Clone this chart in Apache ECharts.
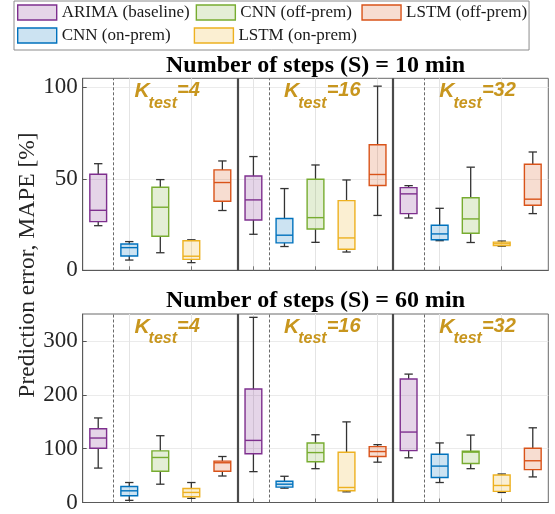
<!DOCTYPE html>
<html>
<head>
<meta charset="utf-8">
<script src="https://cdn.jsdelivr.net/npm/echarts@6/dist/echarts.min.js"></script>
<style>
html,body{margin:0;padding:0;background:#fff;}
#chart{width:555px;height:514px;}
</style>
</head>
<body>
<div id="chart"></div>
<script>
// ---------------- data ----------------
const models = ['ARIMA (baseline)', 'CNN (on-prem)', 'CNN (off-prem)', 'LSTM (on-prem)', 'LSTM (off-prem)'];
const kTest = ['4', '16', '32'];
const panelTitles = ['Number of steps (S) = 10 min', 'Number of steps (S) = 60 min'];
const yTicks10 = [0, 50, 100];
const yTicks60 = [0, 100, 200, 300];
const yMax10 = 105;
const yMax60 = 350;

// [whisker low, Q1, median, Q3, whisker high] for K=4, 16, 32
const arima10   = [[24.4, 26.6, 32.8, 52.5, 58.3], [19.7, 27.5, 38.5, 51.6, 62.2], [28.6, 31.0, 41.8, 45.2, 46.3]];
const cnnOn10   = [[5.6, 7.8, 12.4, 14.4, 15.7], [13.0, 15.0, 19.2, 28.3, 44.7], [16.2, 16.7, 19.9, 24.6, 33.9]];
const cnnOff10  = [[9.6, 18.6, 34.5, 45.4, 49.6], [15.3, 22.6, 28.8, 49.8, 57.6], [15.2, 20.3, 28.1, 39.7, 56.4]];
const lstmOn10  = [[4.2, 6.0, 7.7, 16.2, 16.7], [10.0, 11.5, 17.7, 38.1, 49.4], [13.2, 13.5, 14.5, 15.4, 16.0]];
const lstmOff10 = [[32.7, 37.8, 48.0, 54.9, 59.8], [30.0, 46.4, 52.4, 68.7, 100.7], [31.0, 35.6, 38.9, 58.0, 64.7]];

const arima60   = [[63.9, 100.7, 119.7, 136.8, 157.0], [57.3, 90.4, 115.3, 210.8, 343.8], [83.0, 96.4, 130.8, 229.2, 238.4]];
const cnnOn60   = [[4.0, 12.5, 21.7, 29.8, 37.1], [26.6, 28.5, 34.0, 39.5, 48.7], [37.1, 46.3, 67.6, 89.6, 110.6]];
const cnnOff60  = [[34.0, 57.9, 83.6, 95.9, 124.0], [62.8, 75.7, 92.7, 110.6, 125.8], [62.8, 72.5, 93.5, 95.2, 125.2]];
const lstmOn60  = [[7.7, 10.7, 18.7, 26.1, 37.1], [19.8, 21.7, 27.9, 93.3, 149.7], [18.7, 20.6, 31.6, 51.1, 52.9]];
const lstmOff60 = [[49.2, 57.9, 73.8, 76.8, 85.4], [74.9, 85.4, 94.6, 103.8, 107.4], [47.5, 61.0, 77.5, 100.7, 138.7]];

const panels = [
  [arima10, cnnOn10, cnnOff10, lstmOn10, lstmOff10],
  [arima60, cnnOn60, cnnOff60, lstmOn60, lstmOff60]
];

// ---------------- style ----------------
const edgeColors = ['#7E2F8E', '#0072BD', '#77AC30', '#EDB120', '#D95319'];
const fillColors = ['rgba(126,47,142,0.2)', 'rgba(0,114,189,0.2)', 'rgba(119,172,48,0.2)', 'rgba(237,177,32,0.2)', 'rgba(217,83,25,0.2)'];
const legendFill = ['#E5D5E8', '#CCE3F2', '#E4EED6', '#FBEFD2', '#F7DDD1'];
const legendCol = [1, 1, 2, 2, 3];
const BOX_W = 0.54;
const WHISK = '#333333';
const SERIF = '"Liberation Serif", "Times New Roman", serif';
const SANS = '"Liberation Sans", Arial, sans-serif';
const KCOLOR = '#C8961E';
const nModels = models.length;

const chart = echarts.init(document.getElementById('chart'), null, {renderer: 'canvas'});

function makeRender(m) {
  return function (params, api) {
    const x = api.value(0);
    const pLo = api.coord([x, api.value(1)]);
    const pQ1 = api.coord([x, api.value(2)]);
    const pMd = api.coord([x, api.value(3)]);
    const pQ3 = api.coord([x, api.value(4)]);
    const pHi = api.coord([x, api.value(5)]);
    const hw = api.size([BOX_W, 0])[0] / 2;
    const cw = hw * 0.5;
    const cx = pMd[0];
    const ws = {stroke: WHISK, lineWidth: 1.3};
    return {
      type: 'group',
      children: [
        {type: 'line', shape: {x1: cx, y1: pQ3[1], x2: cx, y2: pHi[1]}, style: ws},
        {type: 'line', shape: {x1: cx - cw, y1: pHi[1], x2: cx + cw, y2: pHi[1]}, style: ws},
        {type: 'line', shape: {x1: cx, y1: pQ1[1], x2: cx, y2: pLo[1]}, style: ws},
        {type: 'line', shape: {x1: cx - cw, y1: pLo[1], x2: cx + cw, y2: pLo[1]}, style: ws},
        {type: 'rect', shape: {x: cx - hw, y: pQ3[1], width: 2 * hw, height: pQ1[1] - pQ3[1]},
         style: {fill: fillColors[m], stroke: edgeColors[m], lineWidth: 1.4}},
        {type: 'line', shape: {x1: cx - hw, y1: pMd[1], x2: cx + hw, y2: pMd[1]},
         style: {stroke: edgeColors[m], lineWidth: 1.4}}
      ]
    };
  };
}

const grids = [
  {left: 82.7, top: 78.3, width: 465.6, height: 192, show: true, borderColor: '#6a6a6a', borderWidth: 1},
  {left: 82.7, top: 314, width: 465.6, height: 191.5, show: true, borderColor: '#6a6a6a', borderWidth: 1}
];
const nPos = kTest.length * nModels;
const xTickVals = [];
for (let v = 1.5; v < nPos; v += 2) xTickVals.push(v);

const xAxes = [0, 1].map(gi => ({
  type: 'value', gridIndex: gi, min: 0, max: nPos, interval: 0.5,
  axisLabel: {show: false},
  axisLine: {show: true, lineStyle: {color: '#5a5a5a', width: 1}},
  axisTick: {show: true, inside: true, length: 4, customValues: xTickVals, lineStyle: {color: '#777'}},
  splitLine: {show: true, lineStyle: {color: '#e4e4e4', width: 1}}
}));

function yAxisFor(gi, max, ticks, interval, minorPerMajor) {
  const colors = [];
  for (let i = 0; i < minorPerMajor; i++) colors.push(i === 0 ? '#d2d2d2' : '#ebebeb');
  return {
    type: 'value', gridIndex: gi, min: 0, max: max, interval: interval,
    axisLabel: {customValues: ticks, fontFamily: SERIF, fontSize: 23, color: '#262626', margin: 5},
    axisTick: {show: true, inside: true, length: 4, customValues: ticks, lineStyle: {color: '#555'}},
    axisLine: {show: true, lineStyle: {color: '#5a5a5a', width: 1}},
    splitLine: {show: true, lineStyle: {color: colors, width: 1}}
  };
}
const yAxes = [yAxisFor(0, yMax10, yTicks10, 10, 5), yAxisFor(1, yMax60, yTicks60, 20, 5)];

const series = [];
panels.forEach((panel, gi) => {
  panel.forEach((modelData, m) => {
    series.push({
      type: 'custom', name: models[m], xAxisIndex: gi, yAxisIndex: gi,
      renderItem: makeRender(m),
      itemStyle: {color: legendFill[m], borderColor: edgeColors[m], borderWidth: 1.4},
      encode: {x: 0, y: [1, 2, 3, 4, 5]},
      data: modelData.map((d, g) => [g * nModels + m + 0.5].concat(d)),
      silent: true, z: 3
    });
  });
  const sepData = [];
  for (let g = 0; g < kTest.length; g++) {
    sepData.push({xAxis: g * nModels + 1, lineStyle: {type: [3, 2], color: '#6a6a6a', width: 1}});
    if (g > 0) sepData.push({xAxis: g * nModels, lineStyle: {type: 'solid', color: '#4a4a4a', width: 2.2}});
  }
  series.push({
    type: 'line', name: 'sep' + gi, xAxisIndex: gi, yAxisIndex: gi, data: [], silent: true,
    markLine: {silent: true, symbol: 'none', label: {show: false}, animation: false, data: sepData}
  });
});

const legendRich = {
  c1: {width: 126, lineHeight: 15, fontFamily: SERIF, fontSize: 17, color: '#1a1a1a'},
  c2: {width: 115, lineHeight: 15, fontFamily: SERIF, fontSize: 17, color: '#1a1a1a'},
  c3: {width: 114, lineHeight: 15, fontFamily: SERIF, fontSize: 17, color: '#1a1a1a'}
};
const legendOrder = [0, 2, 4, 1, 3];

const option = {
  animation: false,
  backgroundColor: '#fff',
  grid: grids,
  xAxis: xAxes,
  yAxis: yAxes,
  legend: {
    left: 14, top: 1, width: 515, orient: 'horizontal',
    itemWidth: 39, itemHeight: 15, itemGap: 6,
    padding: [3, 2, 6, 3],
    borderColor: '#8c8c8c', borderWidth: 1, backgroundColor: '#fff',
    selectedMode: false,
    textStyle: {fontFamily: SERIF, fontSize: 17, color: '#1a1a1a', rich: legendRich},
    formatter: name => '{c' + legendCol[models.indexOf(name)] + '|' + name + '}',
    data: legendOrder.map(m => ({
      name: models[m], icon: 'rect',
      itemStyle: {color: legendFill[m], borderColor: edgeColors[m], borderWidth: 1.4}
    }))
  },
  series: series
};
chart.setOption(option);

// ---------- annotations (titles, y label, K_test labels) ----------
const ctx = document.createElement('canvas').getContext('2d');
function textW(font, s) { ctx.font = font; return ctx.measureText(s).width; }
const KF = {style: 'italic', weight: 'bold', size: 21};
const SF = {style: 'italic', weight: 'bold', size: 16};
const EF = {style: 'italic', weight: 'bold', size: 20};
function fontStr(f) { return f.style + ' ' + f.weight + ' ' + f.size + 'px ' + SANS; }

const graphics = [];
const yMaxes = [yMax10, yMax60];
[0, 1].forEach(gi => {
  const left = chart.convertToPixel({xAxisIndex: gi}, 0);
  const right = chart.convertToPixel({xAxisIndex: gi}, nPos);
  const top = chart.convertToPixel({yAxisIndex: gi}, yMaxes[gi]);
  graphics.push({
    type: 'text', x: (left + right) / 2, y: top - 13, silent: true,
    style: {text: panelTitles[gi], fontFamily: SERIF, fontWeight: 'bold', fontSize: 24,
            fill: '#000', align: 'center', verticalAlign: 'middle'}
  });
  kTest.forEach((k, g) => {
    const cx = chart.convertToPixel({xAxisIndex: gi}, g * nModels + 2.72);
    const wK = textW(fontStr(KF), 'K');
    const wS = textW(fontStr(SF), 'test');
    const wE = textW(fontStr(EF), '=' + k);
    const total = wK - 1 + wS + wE;
    const x0 = cx - total / 2;
    graphics.push({type: 'text', x: x0, y: top + 12.8, silent: true,
      style: {text: 'K', fontFamily: SANS, fontStyle: 'italic', fontWeight: 'bold', fontSize: KF.size,
              fill: KCOLOR, align: 'left', verticalAlign: 'middle'}});
    graphics.push({type: 'text', x: x0 + wK - 1, y: top + 25, silent: true,
      style: {text: 'test', fontFamily: SANS, fontStyle: 'italic', fontWeight: 'bold', fontSize: SF.size,
              fill: KCOLOR, align: 'left', verticalAlign: 'middle'}});
    graphics.push({type: 'text', x: x0 + wK - 1 + wS, y: top + 12.6, silent: true,
      style: {text: '=' + k, fontFamily: SANS, fontStyle: 'italic', fontWeight: 'bold', fontSize: EF.size,
              fill: KCOLOR, align: 'left', verticalAlign: 'middle'}});
  });
});
graphics.push({
  type: 'text', x: 28, y: 265, rotation: Math.PI / 2, silent: true,
  style: {text: 'Prediction error, MAPE [%]', fontFamily: SERIF, fontSize: 23.5, fill: '#262626',
          align: 'center', verticalAlign: 'middle'}
});
chart.setOption({graphic: graphics});
</script>
</body>
</html>
